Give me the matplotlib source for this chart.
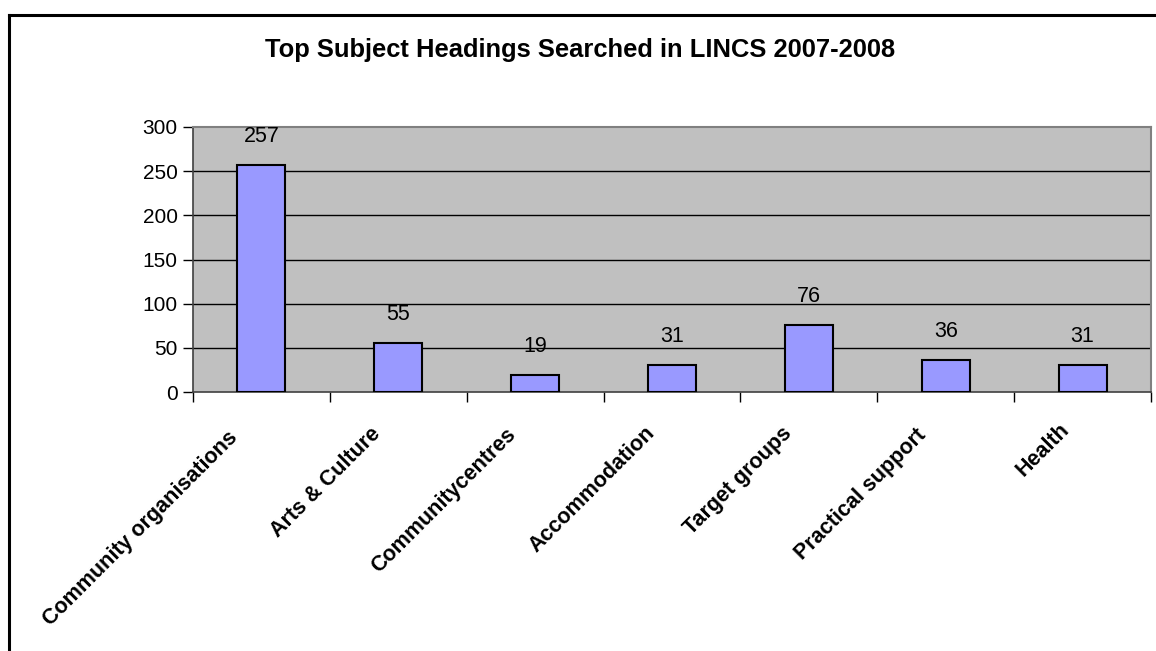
import matplotlib.pyplot as plt
import matplotlib.lines as mlines
import numpy as np

categories = ["Community organisations", "Arts & Culture", "Communitycentres",
              "Accommodation", "Target groups", "Practical support", "Health"]
searches = [257, 55, 19, 31, 76, 36, 31]
y_ticks = [0, 50, 100, 150, 200, 250, 300]

plt.rcParams['font.family'] = ['Liberation Sans', 'DejaVu Sans']

W, H = 1156, 651
fig = plt.figure(figsize=(W / 100, H / 100), dpi=100)
ax = fig.add_axes([193 / W, 1 - 392 / H, (1151 - 193) / W, (392 - 127) / H])

x = np.arange(len(categories))
ax.bar(x, searches, width=0.35, color="#9999FF", edgecolor="black", linewidth=1.5, zorder=3)
for xi, v in zip(x, searches):
    ax.annotate(str(v), (xi, v), xytext=(0, 18), textcoords="offset pixels",
                ha="center", va="bottom", fontsize=15.5)

ax.set_facecolor("#C0C0C0")
ax.set_xlim(-0.5, len(categories) - 0.5)
ax.set_ylim(0, 300)
ax.set_yticks(y_ticks)
ax.tick_params(axis="y", labelsize=15, length=7, width=1, direction="out", pad=4)
for t in y_ticks[1:-1]:
    ax.axhline(t, color="black", linewidth=1, zorder=1)

# category labels, rotated 45 deg; excel slides longer labels a bit further down-left
ax.set_xticks(np.arange(len(categories) + 1) - 0.5)
ax.set_xticklabels([])
ax.tick_params(axis="x", length=7, width=1, direction="out")
for xi, cat in zip(x, categories):
    n = len(cat)
    ax.annotate(cat, (xi, 0), xytext=(-20 - 0.6 * n, -24 - 0.5 * n), textcoords="offset pixels",
                rotation=45, ha="right", va="top", rotation_mode="anchor",
                fontsize=15.5, fontweight="bold", annotation_clip=False)

for s in ["top", "right"]:
    ax.spines[s].set_color("#808080")
    ax.spines[s].set_linewidth(1.5)
for s in ["left", "bottom"]:
    ax.spines[s].set_color("#404040")
    ax.spines[s].set_linewidth(1.2)

fig.text(580 / W, 1 - 50 / H, "Top Subject Headings Searched in LINCS 2007-2008",
         ha="center", va="center", fontsize=18.4, fontweight="bold")

# outer chart border (cut off at right and bottom)
fig.add_artist(mlines.Line2D([9 / W, 9 / W], [0, 1 - 15 / H], color="black", linewidth=2.2))
fig.add_artist(mlines.Line2D([9 / W, 1], [1 - 15 / H, 1 - 15 / H], color="black", linewidth=2.2))

fig.savefig("out.png", dpi=100)
